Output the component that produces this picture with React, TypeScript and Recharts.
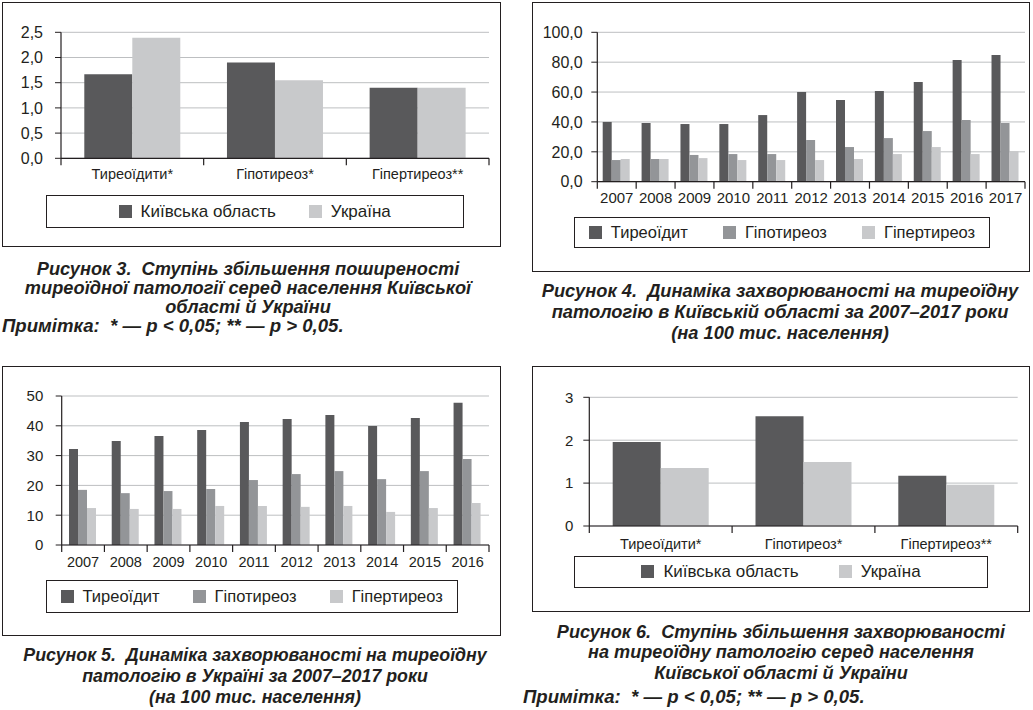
import React from 'react';
import { BarChart, Bar, XAxis, YAxis, CartesianGrid, Legend } from 'recharts';

// ---------- DATA ----------
const groupCategories = ['Тиреоїдити*', 'Гіпотиреоз*', 'Гіпертиреоз**'];
const regionSeriesNames = ['Київська область', 'Україна'];
const diseaseSeriesNames = ['Тиреоїдит', 'Гіпотиреоз', 'Гіпертиреоз'];

// Fig. 3 – prevalence increase ratio
const fig3Kyiv = [1.67, 1.9, 1.4];
const fig3Ukraine = [2.39, 1.55, 1.4];
const fig3Ticks = [0, 0.5, 1, 1.5, 2, 2.5];

// Fig. 4 – Kyiv region 2007–2017
const fig4Years = ['2007', '2008', '2009', '2010', '2011', '2012', '2013', '2014', '2015', '2016', '2017'];
const fig4Thyroiditis = [40.0, 39.3, 38.6, 38.6, 44.6, 60.0, 54.7, 60.7, 66.7, 81.5, 84.8];
const fig4Hypothyroidism = [14.5, 15.2, 17.9, 18.5, 18.5, 27.9, 23.2, 29.2, 33.9, 41.3, 39.3];
const fig4Hyperthyroidism = [15.2, 15.2, 15.8, 14.5, 14.5, 14.5, 15.2, 18.5, 23.2, 18.5, 20.5];
const fig4Ticks = [0, 20, 40, 60, 80, 100];

// Fig. 5 – Ukraine 2007–2016
const fig5Years = ['2007', '2008', '2009', '2010', '2011', '2012', '2013', '2014', '2015', '2016'];
const fig5Thyroiditis = [32.2, 34.9, 36.6, 38.6, 41.3, 42.3, 43.6, 39.9, 42.6, 47.7];
const fig5Hypothyroidism = [18.5, 17.4, 18.1, 18.8, 21.8, 23.8, 24.8, 22.1, 24.8, 28.9];
const fig5Hyperthyroidism = [12.4, 12.1, 12.1, 13.1, 13.1, 12.8, 13.1, 11.1, 12.4, 14.1];
const fig5Ticks = [0, 10, 20, 30, 40, 50];

// Fig. 6 – incidence increase ratio
const fig6Kyiv = [1.96, 2.56, 1.17];
const fig6Ukraine = [1.35, 1.49, 0.96];
const fig6Ticks = [0, 1, 2, 3];

// Captions
const fig3Caption = ['Рисунок 3.\u00a0 Ступінь збільшення поширеності', 'тиреоїдної патології серед населення Київської', 'області й України'];
const fig4Caption = ['Рисунок 4.\u00a0 Динаміка захворюваності на тиреоїдну', 'патологію в Київській області за 2007–2017 роки', '(на 100 тис. населення)'];
const fig5Caption = ['Рисунок 5.\u00a0 Динаміка захворюваності на тиреоїдну', 'патологію в Україні за 2007–2017 роки', '(на 100 тис. населення)'];
const fig6Caption = ['Рисунок 6.\u00a0 Ступінь збільшення захворюваності', 'на тиреоїдну патологію серед населення', 'Київської області й України'];
const noteText = 'Примітка:\u00a0 * — p < 0,05; ** — p > 0,05.';

// ---------- STYLE ----------
const INK = '#231f20';
const DARK = '#59595b';
const MID = '#939598';
const LIGHT = '#c8c9cb';
const GRID = '#bdbfc1';
const FONT = '"Liberation Sans", Arial, Helvetica, sans-serif';

type Series = { name: string; values: number[]; color: string };

type PanelProps = {
  left: number; top: number; width: number; height: number;
  categories: string[];
  series: Series[];
  ticks: number[];
  fmt: (v: number) => string;
  margin: { top: number; right: number; bottom: number; left: number };
  yAxisWidth: number;
  xAxisHeight: number;
  yTickMargin: number;
  yFont: number;
  xFont: number;
  xBaseline: number;
  gapPx: number;
  legend: { left: number; top: number; width: number; height: number; fontSize: number; gap: number };
};

const LegendBox = (props: any) => {
  const { payload, fontSize, gap, order } = props;
  const items = [...(payload || [])].sort(
    (a: any, b: any) => order.indexOf(a.value) - order.indexOf(b.value),
  );
  return (
    <div
      style={{
        boxSizing: 'border-box', width: '100%', height: '100%', border: `1.3px solid ${INK}`,
        display: 'flex', alignItems: 'center', justifyContent: 'center', background: '#fff',
      }}
    >
      {items.map((p: any, i: number) => (
        <div key={i} style={{ display: 'flex', alignItems: 'center', marginLeft: i ? gap : 0 }}>
          <span style={{ width: 13, height: 13, background: p.color, display: 'inline-block', marginRight: 9 }} />
          <span style={{ fontSize, color: INK, lineHeight: 1 }}>{p.value}</span>
        </div>
      ))}
    </div>
  );
};

const Panel = (p: PanelProps) => {
  const data = p.categories.map((name, i) => {
    const row: any = { name };
    p.series.forEach((s, k) => { row['s' + k] = s.values[i]; });
    return row;
  });
  const plotW = p.width - p.margin.left - p.margin.right - p.yAxisWidth;
  const bw = plotW / p.categories.length;
  const n = p.categories.length;
  const order = p.series.map((s) => s.name);

  const XTick = (t: any) => {
    const { x, y, payload, index } = t;
    return (
      <g>
        <line x1={x - bw / 2} x2={x - bw / 2} y1={y} y2={y + 7} stroke={INK} strokeWidth={1.2} />
        {index === n - 1 && <line x1={x + bw / 2} x2={x + bw / 2} y1={y} y2={y + 7} stroke={INK} strokeWidth={1.2} />}
        <text x={x} y={y + p.xBaseline} textAnchor="middle" fontSize={p.xFont} fill={INK}>{payload.value}</text>
      </g>
    );
  };

  return (
    <>
      <div
        style={{
          position: 'absolute', left: p.left, top: p.top, width: p.width, height: p.height,
          boxSizing: 'border-box', border: `1.5px solid ${INK}`,
        }}
      />
      <div style={{ position: 'absolute', left: p.left, top: p.top }}>
        <BarChart width={p.width} height={p.height} data={data} margin={p.margin} barCategoryGap={p.gapPx} barGap={0}>
          <CartesianGrid vertical={false} stroke={GRID} strokeWidth={1} />
          <XAxis
            dataKey="name"
            interval={0}
            height={p.xAxisHeight}
            tickLine={false}
            tickSize={0}
            tickMargin={0}
            axisLine={{ stroke: INK, strokeWidth: 1.2 }}
            tick={XTick}
          />
          <YAxis
            width={p.yAxisWidth}
            domain={[p.ticks[0], p.ticks[p.ticks.length - 1]]}
            ticks={p.ticks}
            interval={0}
            tickFormatter={p.fmt}
            tickSize={6}
            tickMargin={p.yTickMargin}
            axisLine={{ stroke: INK, strokeWidth: 1.2 }}
            tickLine={{ stroke: INK, strokeWidth: 1 }}
            tick={{ fill: INK, fontSize: p.yFont }}
          />
          <Legend
            verticalAlign="middle"
            align="center"
            layout="horizontal"
            wrapperStyle={{ left: p.legend.left, top: p.legend.top, width: p.legend.width, height: p.legend.height }}
            content={(lp: any) => (
              <LegendBox payload={lp.payload} fontSize={p.legend.fontSize} gap={p.legend.gap} order={order} />
            )}
          />
          {p.series.map((s, k) => (
            <Bar key={k} dataKey={'s' + k} name={s.name} fill={s.color} isAnimationActive={false} />
          ))}
        </BarChart>
      </div>
    </>
  );
};

const Caption = (c: { left: number; top: number; width: number; lineHeight: number; lines: string[]; fontSize: number }) => (
  <div
    style={{
      position: 'absolute', left: c.left, top: c.top, width: c.width, textAlign: 'center',
      fontWeight: 'bold', fontStyle: 'italic', fontSize: c.fontSize, lineHeight: `${c.lineHeight}px`, color: INK,
      whiteSpace: 'nowrap',
    }}
  >
    {c.lines.map((l, i) => <div key={i}>{l}</div>)}
  </div>
);

const Note = (n: { left: number; top: number; fontSize: number }) => (
  <div
    style={{
      position: 'absolute', left: n.left, top: n.top, fontWeight: 'bold', fontStyle: 'italic',
      fontSize: n.fontSize, lineHeight: '20px', color: INK, whiteSpace: 'nowrap',
    }}
  >
    {noteText}
  </div>
);

const comma1 = (v: number) => v.toFixed(1).replace('.', ',');
const int0 = (v: number) => String(v);

export default function App() {
  return (
    <div style={{ position: 'absolute', left: 0, top: 0, width: 1033, height: 710, background: '#fff', fontFamily: FONT, overflow: 'hidden' }}>
      {/* Fig. 3 */}
      <Panel
        left={2} top={2} width={499} height={245}
        categories={groupCategories}
        series={[
          { name: regionSeriesNames[0], values: fig3Kyiv, color: DARK },
          { name: regionSeriesNames[1], values: fig3Ukraine, color: LIGHT },
        ]}
        ticks={fig3Ticks} fmt={comma1}
        margin={{ top: 30.3, right: 12, bottom: 58.7, left: 0 }}
        yAxisWidth={59} xAxisHeight={30} yTickMargin={12} yFont={16} xFont={14.5} xBaseline={20.7}
        gapPx={23.3}
        legend={{ left: 43.7, top: 193, width: 418, height: 33, fontSize: 17, gap: 33 }}
      />
      <Caption left={0} top={259.5} width={496} lineHeight={19} lines={fig3Caption} fontSize={18.2} />
      <Note left={2} top={316} fontSize={18.6} />

      {/* Fig. 4 */}
      <Panel
        left={532} top={2} width={498} height={270}
        categories={fig4Years}
        series={[
          { name: diseaseSeriesNames[0], values: fig4Thyroiditis, color: DARK },
          { name: diseaseSeriesNames[1], values: fig4Hypothyroidism, color: MID },
          { name: diseaseSeriesNames[2], values: fig4Hyperthyroidism, color: LIGHT },
        ]}
        ticks={fig4Ticks} fmt={comma1}
        margin={{ top: 30.3, right: 5, bottom: 60.3, left: 0 }}
        yAxisWidth={65.3} xAxisHeight={30} yTickMargin={8.6} yFont={16} xFont={15} xBaseline={21}
        gapPx={5.4}
        legend={{ left: 42, top: 214.7, width: 416, height: 31.7, fontSize: 16.5, gap: 35 }}
      />
      <Caption left={530} top={279.5} width={500} lineHeight={21} lines={fig4Caption} fontSize={18.3} />

      {/* Fig. 5 */}
      <Panel
        left={2} top={366} width={499} height={270}
        categories={fig5Years}
        series={[
          { name: diseaseSeriesNames[0], values: fig5Thyroiditis, color: DARK },
          { name: diseaseSeriesNames[1], values: fig5Hypothyroidism, color: MID },
          { name: diseaseSeriesNames[2], values: fig5Hyperthyroidism, color: LIGHT },
        ]}
        ticks={fig5Ticks} fmt={int0}
        margin={{ top: 30, right: 12, bottom: 61, left: 0 }}
        yAxisWidth={59.7} xAxisHeight={30} yTickMargin={12.4} yFont={15} xFont={14.5} xBaseline={22}
        gapPx={7.3}
        legend={{ left: 43.7, top: 214, width: 412, height: 32.7, fontSize: 16.5, gap: 33 }}
      />
      <Caption left={5} top={644.5} width={500} lineHeight={21} lines={fig5Caption} fontSize={17.8} />

      {/* Fig. 6 */}
      <Panel
        left={532} top={366} width={498} height={246}
        categories={groupCategories}
        series={[
          { name: regionSeriesNames[0], values: fig6Kyiv, color: DARK },
          { name: regionSeriesNames[1], values: fig6Ukraine, color: LIGHT },
        ]}
        ticks={fig6Ticks} fmt={int0}
        margin={{ top: 31.3, right: 12.3, bottom: 56, left: 0 }}
        yAxisWidth={57.3} xAxisHeight={30} yTickMargin={10} yFont={15} xFont={14.5} xBaseline={23}
        gapPx={23.4}
        legend={{ left: 42.3, top: 189.7, width: 413.4, height: 32, fontSize: 17, gap: 40 }}
      />
      <Caption left={531} top={622} width={500} lineHeight={20.3} lines={fig6Caption} fontSize={18.1} />
      <Note left={523} top={687} fontSize={18.6} />
    </div>
  );
}
